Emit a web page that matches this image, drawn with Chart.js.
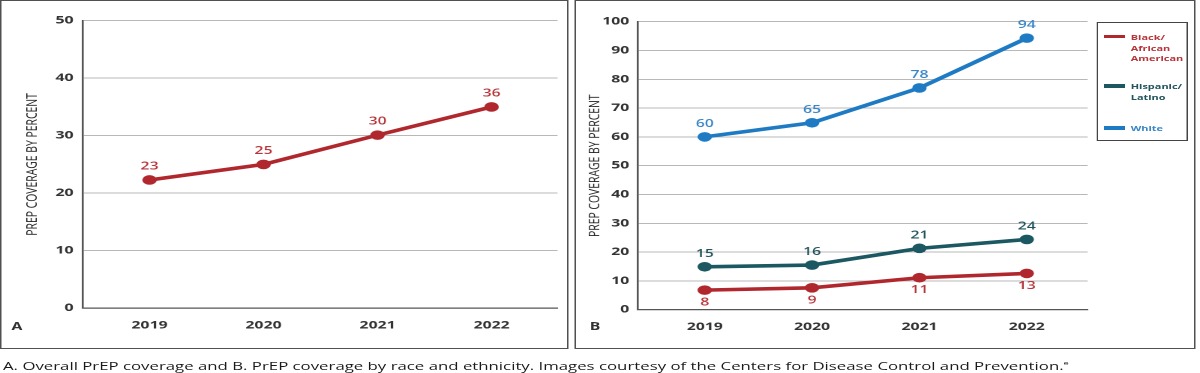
<!DOCTYPE html>
<html><head><meta charset="utf-8">
<script src="https://cdn.jsdelivr.net/npm/chart.js@4.4.1/dist/chart.umd.min.js"></script>
<style>
html,body{margin:0;padding:0;background:#fff;width:1200px;height:373px;overflow:hidden;}
#stage{position:absolute;left:0;top:0;width:800px;height:373px;transform-origin:0 0;transform:scaleX(1.5);font-family:"Open Sans",sans-serif;}
.panel{position:absolute;border:1.3px solid #505050;box-sizing:border-box;}
canvas{position:absolute;}
.letter{position:absolute;font-weight:700;font-size:10.5px;color:#333;line-height:12px;transform:translate(-50%,-50%);}
#legend{position:absolute;left:731.3px;top:22px;width:60.7px;height:119px;border:1.2px solid #444;box-sizing:border-box;}
.lg-text{position:absolute;left:21.5px;font-size:7.3px;font-weight:700;line-height:10.3px;white-space:pre;}
.lg-sw{position:absolute;left:4.2px;width:13.3px;height:3.4px;}
#caption{position:absolute;left:2px;top:356px;white-space:nowrap;color:#1a1a1a;line-height:14px;font-weight:500;}
</style>
</head><body>
<div id="stage">
  <div class="panel" style="left:0;top:0;width:379px;height:349px;"></div>
  <div class="panel" style="left:382.7px;top:0;width:414.7px;height:349px;"></div>
  <canvas id="chartA" width="376" height="346" style="left:1.3px;top:1.3px;width:376px;height:346px;"></canvas>
  <canvas id="chartB" width="412" height="346" style="left:384.2px;top:1.3px;width:412px;height:346px;"></canvas>
  <div class="letter" style="left:11.3px;top:326px;">A</div>
  <div class="letter" style="left:396.7px;top:325.7px;">B</div>
  <div id="legend"></div>
  <div id="caption"></div>
</div>
<script>
// ---------- DATA ----------
const years = [2019, 2020, 2021, 2022];
const overallValues = [22.3, 25.0, 30.1, 35.0];
const overallLabels = ["23", "25", "30", "36"];

const seriesNames = ["Black/\nAfrican\nAmerican", "Hispanic/\nLatino", "White"];
const blackValues = [6.8, 7.6, 11.1, 12.6];
const blackLabels = ["8", "9", "11", "13"];
const hispanicValues = [14.9, 15.5, 21.3, 24.4];
const hispanicLabels = ["15", "16", "21", "24"];
const whiteValues = [60.0, 64.9, 77.0, 94.3];
const whiteLabels = ["60", "65", "78", "94"];

const yTicksA = [0, 10, 20, 30, 40, 50];
const yTicksB = [0, 10, 20, 30, 40, 50, 60, 70, 80, 90, 100];
const yAxisTitle = "PREP COVERAGE BY PERCENT";
const captionText = "A. Overall PrEP coverage and B. PrEP coverage by race and ethnicity. Images courtesy of the Centers for Disease Control and Prevention.";
const captionSup = "e";

// ---------- STYLE ----------
const RED = "#b0282e", RED_T = "#b7353a";
const TEAL = "#1c5862", TEAL_T = "#22545c";
const BLUE = "#1e7bc3", BLUE_T = "#3886c8";
const FONT = '"Open Sans", sans-serif';

const valueLabelPlugin = {
  id: "valueLabels",
  afterDatasetsDraw(chart) {
    const ctx = chart.ctx;
    chart.data.datasets.forEach((ds, i) => {
      const meta = chart.getDatasetMeta(i);
      meta.data.forEach((pt, j) => {
        ctx.save();
        ctx.font = "600 10.5px " + FONT;
        ctx.fillStyle = ds.labelColor;
        ctx.textAlign = "center";
        ctx.textBaseline = "middle";
        ctx.fillText(ds.valueLabels[j], pt.x, pt.y + ds.labelOffset);
        ctx.restore();
      });
    });
  }
};

function pts(vals) { return years.map((y, i) => ({ x: y, y: vals[i] })); }

function lineDs(vals, labels, color, labelColor, offset) {
  return {
    data: pts(vals), valueLabels: labels, labelColor: labelColor, labelOffset: offset,
    borderColor: color, backgroundColor: color, borderWidth: 3.6, tension: 0,
    pointRadius: 4.8, pointBorderWidth: 0, pointBackgroundColor: color, pointHoverRadius: 4.8
  };
}

function makeChart(id, datasets, yTicks, cfg) {
  return new Chart(document.getElementById(id), {
    type: "line",
    data: { datasets },
    plugins: [valueLabelPlugin],
    options: {
      responsive: false, animation: false, devicePixelRatio: 2,
      layout: { padding: { left: 0, top: cfg.top, right: cfg.right, bottom: 0 } },
      plugins: { legend: { display: false }, tooltip: { enabled: false } },
      scales: {
        x: {
          type: "linear", min: cfg.xmin, max: cfg.xmax,
          afterBuildTicks: (ax) => { ax.ticks = years.map(v => ({ value: v })); },
          afterFit: (s) => { s.height = cfg.xh; },
          grid: { display: false, drawTicks: false },
          border: { display: true, color: "#555", width: 1.3 },
          ticks: { padding: cfg.xpad, color: "#333", font: { family: FONT, size: 10.5, weight: "700" },
                   callback: (v) => String(v), maxRotation: 0, autoSkip: false }
        },
        y: {
          min: yTicks[0], max: yTicks[yTicks.length - 1],
          afterBuildTicks: (ax) => { ax.ticks = yTicks.map(v => ({ value: v })); },
          afterFit: (s) => { s.width = cfg.yw; },
          grid: { drawTicks: false, lineWidth: 1, color: (c) => (c.tick && c.tick.value === 0) ? "rgba(0,0,0,0)" : "#b8b8b8" },
          border: { display: true, color: "#555", width: 1.3 },
          ticks: { padding: cfg.ypad, color: "#333", font: { family: FONT, size: 10.5, weight: "700" } },
          title: { display: true, text: yAxisTitle, color: "#222", padding: { top: cfg.tpad, bottom: 0 },
                   font: { family: FONT, size: 10.4, weight: "500" } }
        }
      }
    }
  });
}

makeChart("chartA", [lineDs(overallValues, overallLabels, RED, RED_T, -13.5)], yTicksA,
  { top: 19.7, right: 5.3, xh: 38.8, yw: 54, xmin: 2018.412, xmax: 2022.579, xpad: 11.2, ypad: 6, tpad: 14.5 });

makeChart("chartB", [
    lineDs(blackValues, blackLabels, RED, RED_T, 12.5),
    lineDs(hispanicValues, hispanicLabels, TEAL, TEAL_T, -13),
    lineDs(whiteValues, whiteLabels, BLUE, BLUE_T, -13)
  ], yTicksB,
  { top: 20.7, right: 70.9, xh: 37.3, yw: 41.1, xmin: 2018.375, xmax: 2022.567, xpad: 11, ypad: 5.6, tpad: 6.3 });

// legend
(function () {
  const lg = document.getElementById("legend");
  const colors = [RED, TEAL, BLUE];
  const textColors = [RED_T, TEAL_T, BLUE_T];
  const swTop = [11.8, 61.3, 103.3];
  const txTop = [9.35, 58.35, 99.95];
  seriesNames.forEach((name, i) => {
    const sw = document.createElement("div");
    sw.className = "lg-sw"; sw.style.top = swTop[i] + "px"; sw.style.background = colors[i];
    lg.appendChild(sw);
    const tx = document.createElement("div");
    tx.className = "lg-text"; tx.style.top = txTop[i] + "px"; tx.style.color = textColors[i];
    tx.textContent = name;
    lg.appendChild(tx);
  });
})();

// caption, fitted to reference width
(function () {
  const c = document.createElement("canvas").getContext("2d");
  c.font = "500 11px " + FONT;
  const w = c.measureText(captionText).width + 4;
  const size = 11 * 712 / w;
  const cap = document.getElementById("caption");
  cap.style.fontSize = size.toFixed(2) + "px";
  cap.textContent = captionText;
  const sup = document.createElement("sup");
  sup.textContent = captionSup;
  sup.style.fontSize = "0.55em";
  cap.appendChild(sup);
})();
</script>
</body></html>
